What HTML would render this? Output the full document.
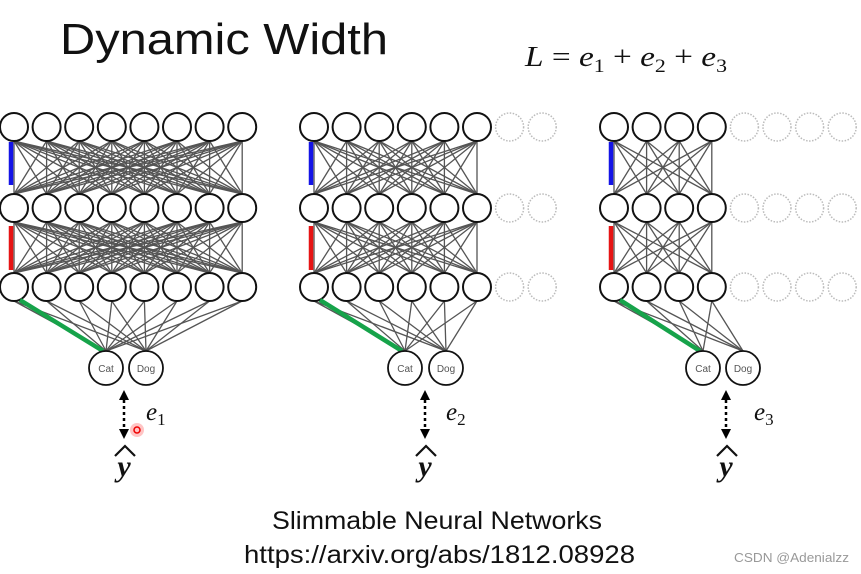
<!DOCTYPE html>
<html><head><meta charset="utf-8"><style>
html,body{margin:0;padding:0;background:#fff;}
svg{display:block;}
</style></head><body>
<svg id="s" width="861" height="574" viewBox="0 0 861 574" xmlns="http://www.w3.org/2000/svg">
<rect width="861" height="574" fill="#fff"/>
<g id="edges" stroke="#555" stroke-width="1.3"></g>
<g id="nodes"></g>
<text x="60" y="54" font-family="Liberation Sans, sans-serif" font-size="44" textLength="328" lengthAdjust="spacingAndGlyphs" fill="#111">Dynamic Width</text>
<text x="525" y="66" font-family="Liberation Serif, serif" font-size="29" fill="#111" textLength="202" lengthAdjust="spacingAndGlyphs"><tspan font-style="italic">L</tspan> = <tspan font-style="italic">e</tspan><tspan font-size="19" dy="6">1</tspan><tspan dy="-6"> + </tspan><tspan font-style="italic">e</tspan><tspan font-size="19" dy="6">2</tspan><tspan dy="-6"> + </tspan><tspan font-style="italic">e</tspan><tspan font-size="19" dy="6">3</tspan></text>
<g id="labels" font-family="Liberation Sans, sans-serif" font-size="10" fill="#555" text-anchor="middle">
<text x="106" y="372">Cat</text><text x="146" y="372">Dog</text>
<text x="405" y="372">Cat</text><text x="446" y="372">Dog</text>
<text x="703" y="372">Cat</text><text x="743" y="372">Dog</text>
</g>
<g id="arrows" stroke="#000" stroke-width="2.5" stroke-dasharray="3,3" fill="none"></g>
<g font-family="Liberation Serif, serif" font-size="25" font-style="italic" fill="#111">
<text x="146" y="420">e<tspan font-size="17" dy="5" font-style="normal">1</tspan></text>
<text x="446" y="420">e<tspan font-size="17" dy="5" font-style="normal">2</tspan></text>
<text x="754" y="420">e<tspan font-size="17" dy="5" font-style="normal">3</tspan></text>
</g>
<g font-family="Liberation Serif, serif" font-size="30" font-style="italic" font-weight="bold" fill="#111" text-anchor="middle">
<text x="124" y="476">y</text><text x="425" y="476">y</text><text x="726" y="476">y</text>
</g>
<g stroke="#111" stroke-width="2.2" fill="none">
<path d="M115 456 L125 446 L135 456"/><path d="M416 456 L426 446 L436 456"/><path d="M717 456 L727 446 L737 456"/>
</g>
<circle cx="137" cy="430" r="7" fill="#f55" opacity="0.35"/>
<circle cx="137" cy="430" r="3" fill="none" stroke="#e00" stroke-width="1.5"/>
<g font-family="Liberation Sans, sans-serif" font-size="25" fill="#111">
<text x="272" y="529" textLength="330" lengthAdjust="spacingAndGlyphs">Slimmable Neural Networks</text>
<text x="244" y="563" textLength="391" lengthAdjust="spacingAndGlyphs">https://arxiv.org/abs/1812.08928</text>
</g>
<text x="734" y="562" font-family="Liberation Sans, sans-serif" font-size="13" fill="#999" textLength="115" lengthAdjust="spacingAndGlyphs">CSDN @Adenialzz</text>
</svg>
<script>
(function(){
var NS="http://www.w3.org/2000/svg";
var E=document.getElementById('edges'),N=document.getElementById('nodes'),A=document.getElementById('arrows');
function el(p,t,a){var e=document.createElementNS(NS,t);for(var k in a)e.setAttribute(k,a[k]);p.appendChild(e);return e;}
var rows=[127,208,287],r=14;
var nets=[
 {x0:14,n:8,d:0,cat:106,dog:146,ax:124},
 {x0:314,n:6,d:2,cat:405,dog:446,ax:425},
 {x0:614,n:4,d:4,cat:703,dog:743,ax:726}
];
var sp=32.6;
nets.forEach(function(o){
 var xs=[];for(var i=0;i<o.n;i++)xs.push(o.x0+i*sp);
 for(var l=0;l<2;l++){
  xs.forEach(function(a){xs.forEach(function(b){
   el(E,'line',{x1:a,y1:rows[l]+r,x2:b,y2:rows[l+1]-r});});});
 }
 xs.forEach(function(a){[o.cat,o.dog].forEach(function(c){
   el(E,'line',{x1:a,y1:rows[2]+r,x2:c,y2:351});});});
 rows.forEach(function(y){
  xs.forEach(function(x){el(N,'circle',{cx:x,cy:y,r:r,fill:'#fff',stroke:'#111','stroke-width':2});});
  for(var j=0;j<o.d;j++)el(N,'circle',{cx:o.x0+(o.n+j)*sp,cy:y,r:r,fill:'none',stroke:'#bbb','stroke-width':1.5,'stroke-dasharray':'1.5,1.5'});
 });
 el(N,'line',{x1:o.x0-3,y1:142,x2:o.x0-3,y2:185,stroke:'#1414e6','stroke-width':4.5});
 el(N,'line',{x1:o.x0-3,y1:226,x2:o.x0-3,y2:270,stroke:'#e61414','stroke-width':4.5});
 el(N,'line',{x1:o.x0+6,y1:300,x2:o.cat-3,y2:351,stroke:'#16a34a','stroke-width':4.5});
 [o.cat,o.dog].forEach(function(c){el(N,'circle',{cx:c,cy:368,r:17,fill:'#fff',stroke:'#111','stroke-width':1.8});});
 el(A,'line',{x1:o.ax,y1:400,x2:o.ax,y2:430});
 el(N,'path',{d:'M'+(o.ax-5)+' 400 L'+o.ax+' 390 L'+(o.ax+5)+' 400 Z',fill:'#000'});
 el(N,'path',{d:'M'+(o.ax-5)+' 429 L'+o.ax+' 439 L'+(o.ax+5)+' 429 Z',fill:'#000'});
});
})();
</script>
</body></html>
